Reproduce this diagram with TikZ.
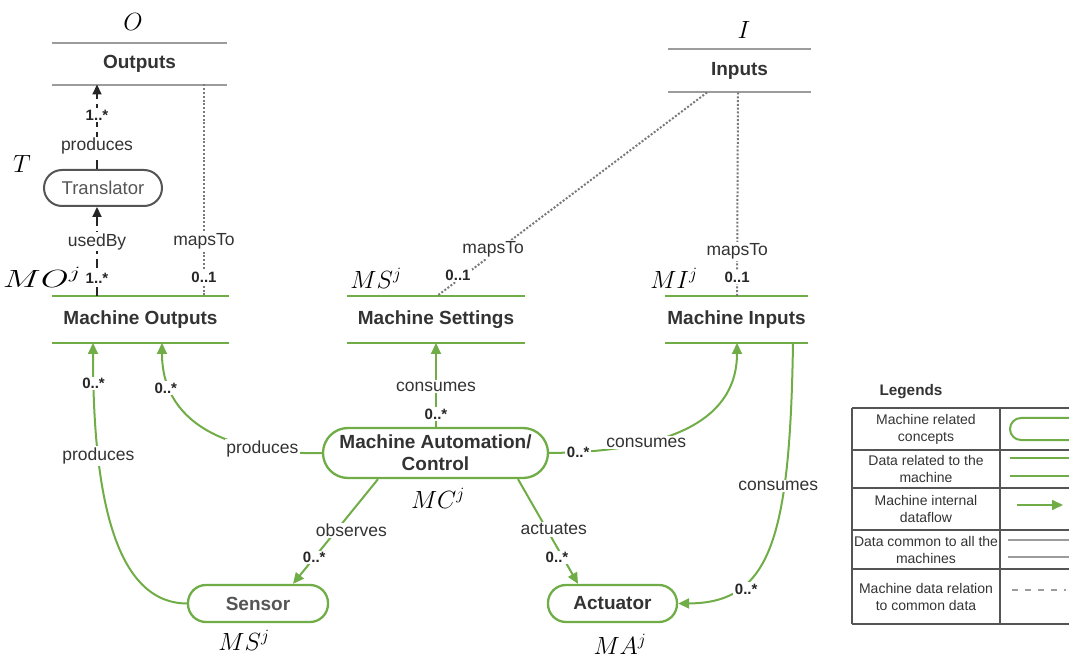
\documentclass[tikz,border=0pt]{standalone}
\usepackage{fontspec}
\setmainfont{Liberation Sans}
\usepackage{graphicx}
\usetikzlibrary{arrows.meta,calc}
\definecolor{mgreen}{HTML}{70AD47}
\definecolor{cgray}{HTML}{9C9C9C}
\definecolor{dotgray}{HTML}{7A7A7A}
\definecolor{txtgray}{HTML}{333333}
\definecolor{tgray}{HTML}{555555}
\definecolor{tabline}{HTML}{555555}

\begin{document}
\begin{tikzpicture}[x=1pt,y=-1pt,
  lbl/.style={font=\fontsize{17.5}{20}\selectfont, text=txtgray, fill=white, inner sep=1.5pt},
  mult/.style={font=\bfseries\fontsize{15}{17}\selectfont, text=black!85, fill=white, inner sep=1.5pt},
  title/.style={font=\bfseries\fontsize{19}{22}\selectfont, text=txtgray},
  sym/.style={font=\fontsize{25}{28}\selectfont, inner sep=0pt},
  block/.style={title, inner sep=0pt},
  mline/.style={draw=mgreen, line width=2pt},
  cline/.style={draw=cgray, line width=1.8pt},
  pill/.style={draw=mgreen, line width=2.3pt, rounded corners=#1, fill=white, inner sep=0pt},
  pill/.default=18pt,
  flow/.style={draw=mgreen, line width=2pt, -{Triangle[length=11pt,width=10pt]}},
  use/.style={draw=black!85, line width=2.2pt, dash pattern=on 9pt off 5pt, -{Triangle[length=10pt,width=9pt]}},
  maps/.style={draw=dotgray, line width=2pt, dash pattern=on 2pt off 1.8pt},
  leg/.style={font=\fontsize{14}{17}\selectfont, text=txtgray, align=center},
  tab/.style={draw=tabline, line width=1.2pt},
]
\useasboundingbox (0,0) rectangle (1069,660);

% ---------- common data ----------
\node[block, minimum width=175pt, minimum height=41pt] (out) at (139.5,64) {Outputs};
\draw[cline] (out.north west) -- (out.north east);
\draw[cline] (out.south west) -- (out.south east);
\node[sym] (O) at (133,22) {$O$};

\node[block, minimum width=143pt, minimum height=43pt] (inp) at (739.5,70.5) {Inputs};
\draw[cline] (inp.north west) -- (inp.north east);
\draw[cline] (inp.south west) -- (inp.south east);
\node[sym] (I) at (744,30) {$I$};

% ---------- translator ----------
\node[draw=tgray, line width=2pt, rounded corners=18pt, minimum width=118pt, minimum height=36pt,
      font=\fontsize{18.5}{21}\selectfont, text=tgray] (tr) at (103,188) {Translator};
\node[sym] (T) at (22,164) {$T$};

% ---------- machine data ----------
\node[block, minimum width=177pt, minimum height=47pt] (mo) at (140.5,319.5) {Machine Outputs};
\draw[mline] (mo.north west) -- (mo.north east);
\draw[mline] (mo.south west) -- (mo.south east);
\node[sym] (MOj) at (42,277) {\scalebox{1.45}[1]{$MO^j$}};

\node[block, minimum width=178pt, minimum height=47pt] (ms) at (436,319.5) {Machine Settings};
\draw[mline] (ms.north west) -- (ms.north east);
\draw[mline] (ms.south west) -- (ms.south east);
\node[sym] (MSj) at (376,278) {$MS^j$};

\node[block, minimum width=143pt, minimum height=47pt] (mi) at (736.5,319.5) {Machine Inputs};
\draw[mline] (mi.north west) -- (mi.north east);
\draw[mline] (mi.south west) -- (mi.south east);
\node[sym] (MIj) at (674,278) {$MI^j$};

% ---------- machine concepts ----------
\node[pill=25pt, minimum width=225pt, minimum height=50pt, title, align=center] (mc) at (435.5,453)
  {Machine Automation/\\Control};
\node[sym] (MCj) at (438,498) {$MC^j$};

\node[pill, minimum width=140pt, minimum height=37pt, title, text=tgray] (sen) at (258,603.5) {Sensor};
\node[sym] (MSj2) at (244,640) {$MS^j$};

\node[pill, minimum width=129pt, minimum height=37pt, title] (act) at (612.5,603.5) {Actuator};
\node[sym] (MAj) at (620,644) {$MA^j$};

% ---------- anchor points on the data lines ----------
\coordinate (mo-u) at (97,296);
\coordinate (out-d) at (97,84.5);
\coordinate (out-m) at (204,84.5);
\coordinate (mo-m) at (204,296);
\coordinate (inp-s) at (707,92.5);
\coordinate (ms-m) at (437,296);
\coordinate (inp-v) at (738,92.5);
\coordinate (mi-m) at (737,296);
\coordinate (mo-a1) at (93,343);
\coordinate (mo-a2) at (162,343);
\coordinate (ms-a) at (436,343);
\coordinate (mi-a) at (737,343);
\coordinate (mi-b) at (793,343);

% ---------- translator relations ----------
\draw[use] (mo-u) -- (mo-u |- tr.south)
  node[mult,pos=0.2]{1..*} node[lbl,pos=0.61]{usedBy};
\draw[use] (tr.north -| out-d) -- (out-d)
  node[lbl,pos=0.27]{produces} node[mult,pos=0.64]{1..*};

% ---------- mappings to common data ----------
\draw[maps] (out-m) -- (mo-m) node[lbl,pos=0.74]{mapsTo} node[mult,pos=0.91]{0..1};
\draw[maps] (inp-s) -- (ms-m) node[lbl,pos=0.77,xshift=-6pt]{mapsTo} node[mult,pos=0.9,xshift=-6pt]{0..1};
\draw[maps] (inp-v) -- (mi-m) node[lbl,pos=0.78]{mapsTo} node[mult,pos=0.91]{0..1};

% ---------- internal dataflow ----------
\draw[flow] (sen.west) .. controls (110,603) and (93,480) .. (mo-a1)
  node[lbl,pos=0.71]{produces} node[mult,pos=0.9]{0..*};
\draw[flow] (mc.west) .. controls (240,455) and (162,430) .. (mo-a2)
  node[lbl,pos=0.25]{produces} node[mult,pos=0.8,xshift=-5pt]{0..*};
\draw[flow] (mc.north -| ms-a) -- (ms-a)
  node[mult,pos=0.15]{0..*} node[lbl,pos=0.48]{consumes};
\draw[flow] (mc.east) .. controls (660,452) and (737,425) .. (mi-a)
  node[mult,pos=0.09]{0..*} node[lbl,pos=0.33]{consumes};
\draw[flow] (mi-b) .. controls (790,540) and (770,603) .. (act.east)
  node[lbl,pos=0.3,xshift=-6pt]{consumes} node[mult,pos=0.74,xshift=10pt]{0..*};
\draw[flow] ($(mc.south)+(-57.5,0)$) -- ($(sen.north)+(35,0)$)
  node[lbl,pos=0.49,xshift=15pt]{observes} node[mult,pos=0.75]{0..*};
\draw[flow] ($(mc.south)+(82.5,0)$) -- ($(act.north)+(-34.5,0)$)
  node[lbl,pos=0.48,xshift=7pt]{actuates} node[mult,pos=0.75,xshift=-6pt]{0..*};

% ---------- legend ----------
\node[font=\bfseries\fontsize{15.3}{18}\selectfont, text=txtgray, anchor=west] (legt) at (876,392) {Legends};
\foreach \yy in {408,450,488,530,569,624} \draw[tab] (852,\yy) -- (1085,\yy);
\draw[tab] (852,408) -- (852,624);
\draw[tab] (1000,408) -- (1000,624);

\node[leg] (l1) at (926,429) {Machine related\\concepts};
\node[leg] (l2) at (926,469) {Data related to the\\machine};
\node[leg] (l3) at (926,509) {Machine internal\\dataflow};
\node[leg] (l4) at (926,549.5) {Data common to all the\\machines};
\node[leg] (l5) at (926,596.5) {Machine data relation\\to common data};

\node[pill=11pt, line width=2pt, minimum width=80pt, minimum height=22pt] (legpill) at (1050,429) {};
\draw[mline, line width=1.8pt] (1010,458) -- (1085,458);
\draw[mline, line width=1.8pt] (1010,476) -- (1085,476);
\draw[flow] (1017,505) -- (1063,505);
\draw[draw=cgray, line width=1.3pt] (1008,540) -- (1085,540);
\draw[draw=cgray, line width=1.3pt] (1008,557) -- (1085,557);
\draw[draw=cgray, line width=1.6pt, dash pattern=on 6pt off 7pt] (1012,590) -- (1066,590);
\end{tikzpicture}
\end{document}
